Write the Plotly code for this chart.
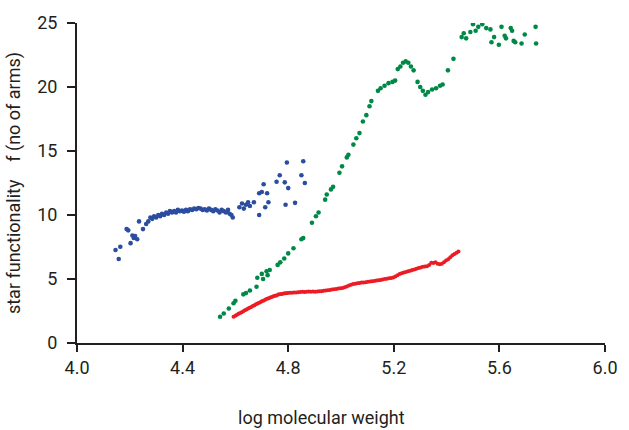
import plotly.graph_objects as go

# star polymer: functionality vs log molecular weight (three samples)
blue_x = [4.146, 4.158, 4.164, 4.188, 4.194, 4.203, 4.21, 4.215, 4.22, 4.228,
          4.235, 4.25, 4.262, 4.27, 4.278, 4.285, 4.292, 4.30, 4.308, 4.315,
          4.322, 4.33, 4.338, 4.345, 4.352, 4.36, 4.368, 4.375, 4.382, 4.39,
          4.398, 4.405, 4.413, 4.42, 4.428, 4.436, 4.444, 4.452, 4.46, 4.468,
          4.476, 4.484, 4.492, 4.50, 4.508, 4.516, 4.524, 4.532, 4.54, 4.548,
          4.556, 4.564, 4.572, 4.578, 4.585, 4.59,
          4.615, 4.625, 4.632, 4.64, 4.648, 4.655, 4.67, 4.69, 4.69, 4.70,
          4.707, 4.713, 4.72, 4.725, 4.756, 4.768, 4.787, 4.79, 4.80, 4.795,
          4.826, 4.85, 4.857, 4.863]
blue_y = [7.27, 6.56, 7.52, 8.9, 8.8, 7.8, 8.4, 8.2, 8.35, 8.1,
          9.5, 8.9, 9.3, 9.5, 9.8, 9.7, 9.9, 9.8, 10.0, 9.9,
          10.1, 10.0, 10.2, 10.1, 10.3, 10.2, 10.3, 10.2, 10.4, 10.3,
          10.35, 10.25, 10.4, 10.3, 10.45, 10.4, 10.5, 10.45, 10.55, 10.5,
          10.4, 10.45, 10.35, 10.5, 10.4, 10.3, 10.45, 10.35, 10.2, 10.4,
          10.3, 10.2, 10.4, 10.1, 10.0, 9.8,
          10.6, 10.9, 10.5, 10.8, 11.0, 10.7, 11.0, 10.0, 11.7, 11.8,
          12.4, 10.6, 11.7, 11.0, 12.6, 13.1, 12.55, 10.8, 12.1, 14.1,
          10.95, 13.1, 14.2, 12.5]

green_x = [4.542, 4.556, 4.575, 4.593, 4.60, 4.63, 4.64, 4.655, 4.68, 4.683,
           4.70, 4.705, 4.718, 4.722, 4.73, 4.76, 4.77, 4.785, 4.80, 4.82,
           4.85, 4.857, 4.89, 4.905, 4.915, 4.94, 4.946, 4.962, 4.97, 4.994,
           5.004, 5.022, 5.028, 5.047, 5.058, 5.07, 5.083, 5.096, 5.108, 5.115,
           5.14, 5.15, 5.165, 5.18, 5.195, 5.205, 5.215, 5.225, 5.235, 5.245,
           5.255, 5.265, 5.275, 5.29, 5.30, 5.31, 5.32, 5.33, 5.345, 5.36,
           5.375, 5.385, 5.405, 5.426, 5.457, 5.465, 5.474, 5.49, 5.50, 5.51,
           5.52, 5.535, 5.55, 5.566, 5.57, 5.58, 5.598, 5.608, 5.62, 5.625,
           5.643, 5.648, 5.654, 5.66, 5.684, 5.696, 5.737, 5.739]
green_y = [2.05, 2.3, 2.7, 3.1, 3.3, 3.8, 3.9, 4.1, 4.4, 5.1,
           5.4, 5.0, 5.6, 5.3, 5.7, 6.1, 6.3, 6.6, 7.0, 7.4,
           8.1, 8.2, 9.4, 9.9, 10.2, 11.2, 11.6, 12.0, 12.2, 13.3,
           13.8, 14.5, 14.7, 15.5, 16.0, 16.4, 17.3, 17.8, 18.5, 18.9,
           19.7, 19.9, 20.1, 20.3, 20.4, 20.5, 21.4, 21.6, 21.9, 22.0,
           21.9, 21.6, 21.3, 20.4, 20.0, 19.7, 19.4, 19.6, 19.8, 19.9,
           20.1, 20.2, 21.3, 22.2, 23.9, 24.2, 23.8, 24.3, 24.9, 24.4,
           24.7, 24.9, 24.6, 24.5, 23.5, 23.9, 23.3, 24.7, 24.0, 23.8,
           24.6, 24.4, 23.6, 23.5, 23.4, 24.1, 24.7, 23.4]

red_x = [4.593, 4.600, 4.606, 4.612, 4.618, 4.624, 4.630, 4.636, 4.642, 4.648,
         4.654, 4.660, 4.666, 4.672, 4.678, 4.684, 4.690, 4.696, 4.702, 4.708,
         4.714, 4.720, 4.726, 4.732, 4.738, 4.744, 4.750, 4.756, 4.762, 4.768,
         4.774, 4.780, 4.786, 4.792, 4.798, 4.806, 4.814, 4.822, 4.830, 4.838,
         4.846, 4.854, 4.862, 4.870, 4.878, 4.886, 4.894, 4.902, 4.910, 4.918,
         4.926, 4.934, 4.942, 4.950, 4.958, 4.966, 4.974, 4.982, 4.990, 4.998,
         5.006, 5.014, 5.022, 5.030, 5.038, 5.046, 5.054, 5.062, 5.070, 5.078,
         5.086, 5.094, 5.102, 5.110, 5.118, 5.126, 5.134, 5.142, 5.150, 5.158,
         5.166, 5.174, 5.182, 5.190, 5.198, 5.206, 5.214, 5.222, 5.230, 5.238,
         5.246, 5.254, 5.262, 5.270, 5.278, 5.286, 5.294, 5.302, 5.310, 5.318,
         5.326, 5.334, 5.342, 5.350, 5.358, 5.366, 5.374, 5.382, 5.390, 5.398,
         5.406, 5.414, 5.422, 5.430, 5.438, 5.445]
red_y = [2.05, 2.12, 2.2, 2.28, 2.35, 2.4, 2.48, 2.55, 2.62, 2.7,
         2.76, 2.82, 2.9, 2.95, 3.02, 3.08, 3.15, 3.2, 3.28, 3.33,
         3.4, 3.45, 3.5, 3.55, 3.6, 3.65, 3.7, 3.72, 3.78, 3.8,
         3.83, 3.85, 3.88, 3.88, 3.9, 3.92, 3.93, 3.95, 3.95, 3.97,
         3.98, 4.0, 3.98, 4.0, 4.02, 4.0, 4.03, 4.0, 4.02, 4.05,
         4.05, 4.08, 4.1, 4.12, 4.15, 4.18, 4.2, 4.22, 4.25, 4.27,
         4.3, 4.35, 4.42, 4.5, 4.55, 4.6, 4.63, 4.66, 4.68, 4.72,
         4.73, 4.75, 4.78, 4.8, 4.83, 4.85, 4.88, 4.9, 4.93, 4.97,
         5.0, 5.02, 5.05, 5.08, 5.12, 5.2, 5.3, 5.4, 5.44, 5.5,
         5.55, 5.6, 5.65, 5.7, 5.75, 5.8, 5.85, 5.9, 5.95, 5.98,
         6.0, 6.1, 6.27, 6.25, 6.3, 6.2, 6.15, 6.2, 6.3, 6.45,
         6.55, 6.7, 6.85, 6.95, 7.05, 7.15]

x_ticks = [4.0, 4.4, 4.8, 5.2, 5.6, 6.0]
y_ticks = [0, 5, 10, 15, 20, 25]

FONT = "Liberation Sans Narrow, Roboto, sans-serif"
TXT = "#231f20"

fig = go.Figure()

for xs, ys, col, sz in [(blue_x, blue_y, "#2b4c9f", 4.6),
                        (green_x, green_y, "#008846", 4.6),
                        (red_x, red_y, "#ec1c24", 4.0)]:
    fig.add_trace(go.Scatter(
        x=xs, y=ys, mode="markers",
        marker=dict(color=col, size=sz, line=dict(width=0)),
        showlegend=False, hoverinfo="x+y"
    ))

fig.add_annotation(
    text="log molecular weight", xref="paper", yref="paper",
    x=0.463, y=-0.234, xanchor="center", yanchor="middle",
    showarrow=False, font=dict(size=18, color=TXT, family=FONT)
)

fig.update_layout(
    width=629, height=430,
    margin=dict(l=77, r=14, t=23, b=87),
    plot_bgcolor="white", paper_bgcolor="white",
    font=dict(family=FONT, size=18, color=TXT),
)

fig.update_xaxes(
    range=[4.0, 6.0], tickvals=x_ticks, ticktext=[f"{v:.1f}" for v in x_ticks],
    showgrid=False, zeroline=False, showline=True, linecolor=TXT, linewidth=2,
    ticks="outside", ticklen=7, tickwidth=2, tickcolor=TXT,
    tickfont=dict(size=18), ticklabeloverflow="allow"
)
fig.update_yaxes(
    range=[0, 25], tickvals=y_ticks,
    showgrid=False, zeroline=False, showline=True, linecolor=TXT, linewidth=2,
    ticks="outside", ticklen=8, tickwidth=2, tickcolor=TXT,
    tickfont=dict(size=18), ticklabelstandoff=6,
    title=dict(text="star functionality\u00a0\u00a0\u00a0\u00a0f (no of arms)",
               font=dict(size=18), standoff=12)
)

# drop the page's default body margin so the figure sits at the top-left corner
fig.write_html("out.html", config={"displayModeBar": False},
               post_script="document.body.style.margin='0';")
